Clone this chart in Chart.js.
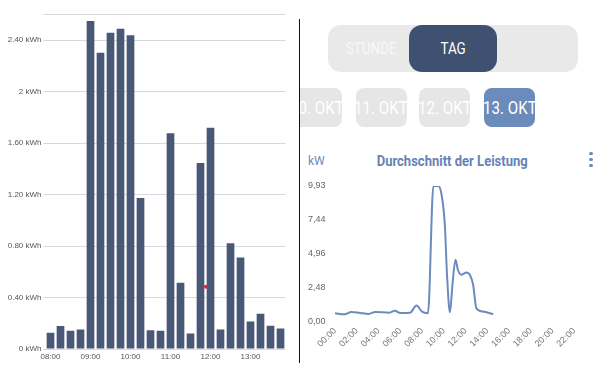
<!DOCTYPE html>
<html>
<head>
<meta charset="utf-8">
<script src="https://cdn.jsdelivr.net/npm/chart.js@4"></script>
<style>
  html, body { margin: 0; padding: 0; background: #fff; }
  body { width: 615px; height: 368px; position: relative; overflow: hidden; font-family: "Liberation Sans", Arial, sans-serif; }
  .abs { position: absolute; }
  #leftWrap { left: 0; top: 0; width: 298px; height: 368px; }
  #rightChartWrap { left: 300px; top: 140px; width: 315px; height: 228px; }
  #divider { left: 298.5px; top: 19px; width: 1.6px; height: 344px; background: #111; }
  #rightPanel { left: 300px; top: 0; width: 315px; height: 140px; overflow: hidden; }
  .seg { left: 27.7px; top: 25px; width: 250px; height: 46.7px; background: #e9e9e9; border-radius: 13px; }
  .segSel { left: 109px; top: 25px; width: 87.7px; height: 46.7px; background: #3e5170; border-radius: 13px; }
  .lbl { display: flex; align-items: center; justify-content: center; font-family: Roboto, sans-serif; color: #fff; white-space: nowrap; }
  .lbl span { display: inline-block; transform: scaleX(0.84); }
  .pill { top: 88px; width: 51px; height: 38.7px; border-radius: 8px; background: #e6e6e6; }
  .pill.sel { background: #6b8bbb; }
  #kw { left: 308px; top: 154px; font-family: Roboto, sans-serif; font-size: 12px; color: #6b8bbb; }
  #title { left: 370px; top: 153px; width: 164px; text-align: center; font-family: Roboto, sans-serif; font-weight: bold; font-size: 14px; color: #6583b5; white-space: nowrap; }
  #title span { display: inline-block; transform: scaleX(0.93); }
  .dot { width: 3.2px; height: 3.2px; border-radius: 50%; background: #6b8bbb; left: 589.4px; }
</style>
</head>
<body>
<div id="leftWrap" class="abs"><canvas id="barChart"></canvas></div>
<div id="divider" class="abs"></div>
<div id="rightPanel" class="abs">
  <div class="abs seg"></div>
  <div class="abs lbl" style="left:27.7px;top:25px;width:88px;height:46.7px;font-size:16px;color:#f8f8f8;"><span>STUNDE</span></div>
  <div class="abs segSel lbl" style="font-size:16px;"><span>TAG</span></div>
  <div class="abs pill lbl" style="left:-9px;font-size:18px;"><span>10. OKT</span></div>
  <div class="abs pill lbl" style="left:55.7px;font-size:18px;"><span>11. OKT</span></div>
  <div class="abs pill lbl" style="left:119.3px;font-size:18px;"><span>12. OKT</span></div>
  <div class="abs pill sel lbl" style="left:184px;font-size:18px;"><span>13. OKT</span></div>
</div>
<div id="kw" class="abs">kW</div>
<div id="title" class="abs"><span>Durchschnitt der Leistung</span></div>
<div class="abs dot" style="top:151.5px"></div>
<div class="abs dot" style="top:157.9px"></div>
<div class="abs dot" style="top:164.3px"></div>
<div id="rightChartWrap" class="abs"><canvas id="lineChart"></canvas></div>

<script>
// ---- Left chart data (15-minute energy, kWh) ----
const barTimes = ['08:00','08:15','08:30','08:45','09:00','09:15','09:30','09:45',
                  '10:00','10:15','10:30','10:45','11:00','11:15','11:30','11:45',
                  '12:00','12:15','12:30','12:45','13:00','13:15','13:30','13:45'];
const barValues = [0.126,0.178,0.142,0.152,2.548,2.301,2.457,2.488,
                   2.436,1.172,0.145,0.142,1.675,0.514,0.121,1.445,
                   1.719,0.152,0.821,0.710,0.214,0.274,0.181,0.160];
const barYTickLabels = ['0 kWh','0.40 kWh','0.80 kWh','1.20 kWh','1.60 kWh','2 kWh','2.40 kWh'];
const markerPos = [15.55];   // red marker, position in bar slots (fractional category index)
const markerValue = [0.483];

// ---- Right chart data (average power, kW) ----
const powerHours = [0, 0.9, 1.5, 2.3, 3.1, 3.7, 5.0, 5.5, 6.0, 6.9, 7.5, 8.0, 8.55,
                    9.05, 9.5, 9.8, 10.1, 10.3, 10.57, 10.8, 11.08, 11.3, 11.6, 12.1,
                    12.4, 12.7, 13.0, 13.6, 14.55];
const powerKW = [0.62, 0.54, 0.71, 0.64, 0.57, 0.71, 0.66, 0.81, 0.64, 0.66, 1.18, 0.74, 0.62,
                 9.93, 9.93, 9.3, 7.1, 3.43, 0.69, 2.7, 4.54, 3.8, 3.43, 3.6,
                 3.43, 2.7, 0.98, 0.74, 0.54];
const lineYTickLabels = ['0,00','2,48','4,96','7,44','9,93'];
const lineXTickLabels = ['00:00','02:00','04:00','06:00','08:00','10:00','12:00','14:00','16:00','18:00','20:00','22:00'];

const leftFont = { family: '"Liberation Sans", Arial, sans-serif', size: 8 };

new Chart(document.getElementById('barChart'), {
  data: {
    labels: barTimes,
    datasets: [
      {
        type: 'bar',
        data: barValues,
        backgroundColor: '#4a5877',
        borderWidth: 0,
        categoryPercentage: 1,
        barPercentage: 0.77,
        order: 1
      },
      {
        type: 'scatter',
        parsing: false,
        data: markerPos.map((p, i) => ({ x: p, y: markerValue[i] })),
        pointRadius: 2,
        pointBackgroundColor: '#d8283a',
        pointBorderWidth: 0,
        order: 0
      }
    ]
  },
  options: {
    responsive: true,
    maintainAspectRatio: false,
    animation: false,
    layout: { padding: { top: 14.25, right: 12.5, left: 0, bottom: 0 } },
    plugins: { legend: { display: false }, tooltip: { enabled: false } },
    scales: {
      x: {
        type: 'category', offset: true,
        grid: { display: false, drawTicks: false, offset: true },
        border: { display: false },
        ticks: {
          autoSkip: false, maxRotation: 0, minRotation: 0, padding: 3,
          color: '#555', font: leftFont,
          callback: function(v, i) { const l = barTimes[i]; return l.endsWith(':00') ? l : ''; }
        },
        afterFit: s => { s.height = 19; }
      },
      y: {
        min: 0, max: 2.6, bounds: 'data',
        grid: { color: '#d6d9dd', lineWidth: 1, tickLength: 2 },
        border: { display: false },
        ticks: {
          stepSize: 0.4, includeBounds: false, padding: 2,
          color: '#555', font: leftFont,
          callback: function(v) { const k = Math.round(v / 0.4); return barYTickLabels[k] || ''; }
        },
        afterFit: s => { s.width = 45.5; }
      }
    }
  }
});

const rightFont = { family: '"Liberation Sans", Arial, sans-serif', size: 9 };

new Chart(document.getElementById('lineChart'), {
  type: 'line',
  data: {
    datasets: [{
      data: powerHours.map((h, i) => ({ x: h, y: powerKW[i] })),
      borderColor: '#6b8bbf',
      borderWidth: 2,
      pointRadius: 0,
      fill: false,
      cubicInterpolationMode: 'monotone'
    }]
  },
  options: {
    responsive: true,
    maintainAspectRatio: false,
    animation: false,
    layout: { padding: { top: 46, right: 19, left: 8, bottom: 0 } },
    plugins: { legend: { display: false }, tooltip: { enabled: false } },
    scales: {
      x: {
        type: 'linear', min: 0, max: 24, bounds: 'data',
        grid: { display: false, drawTicks: false },
        border: { display: false },
        ticks: {
          stepSize: 2, autoSkip: false, maxRotation: 45, minRotation: 45, padding: 4,
          color: '#777', font: rightFont,
          callback: function(v) { const k = Math.round(v / 2); return lineXTickLabels[k] || ''; }
        },
        afterFit: s => { s.height = 46.3; }
      },
      y: {
        min: 0, max: 9.93, bounds: 'data',
        grid: { display: false, drawTicks: false },
        border: { display: false },
        ticks: {
          stepSize: 2.4825, crossAlign: 'far', padding: 0,
          color: '#666', font: rightFont,
          callback: function(v) { const k = Math.round(v / 2.4825); return lineYTickLabels[k] || ''; }
        },
        afterFit: s => { s.width = 27; }
      }
    }
  }
});
</script>
</body>
</html>
